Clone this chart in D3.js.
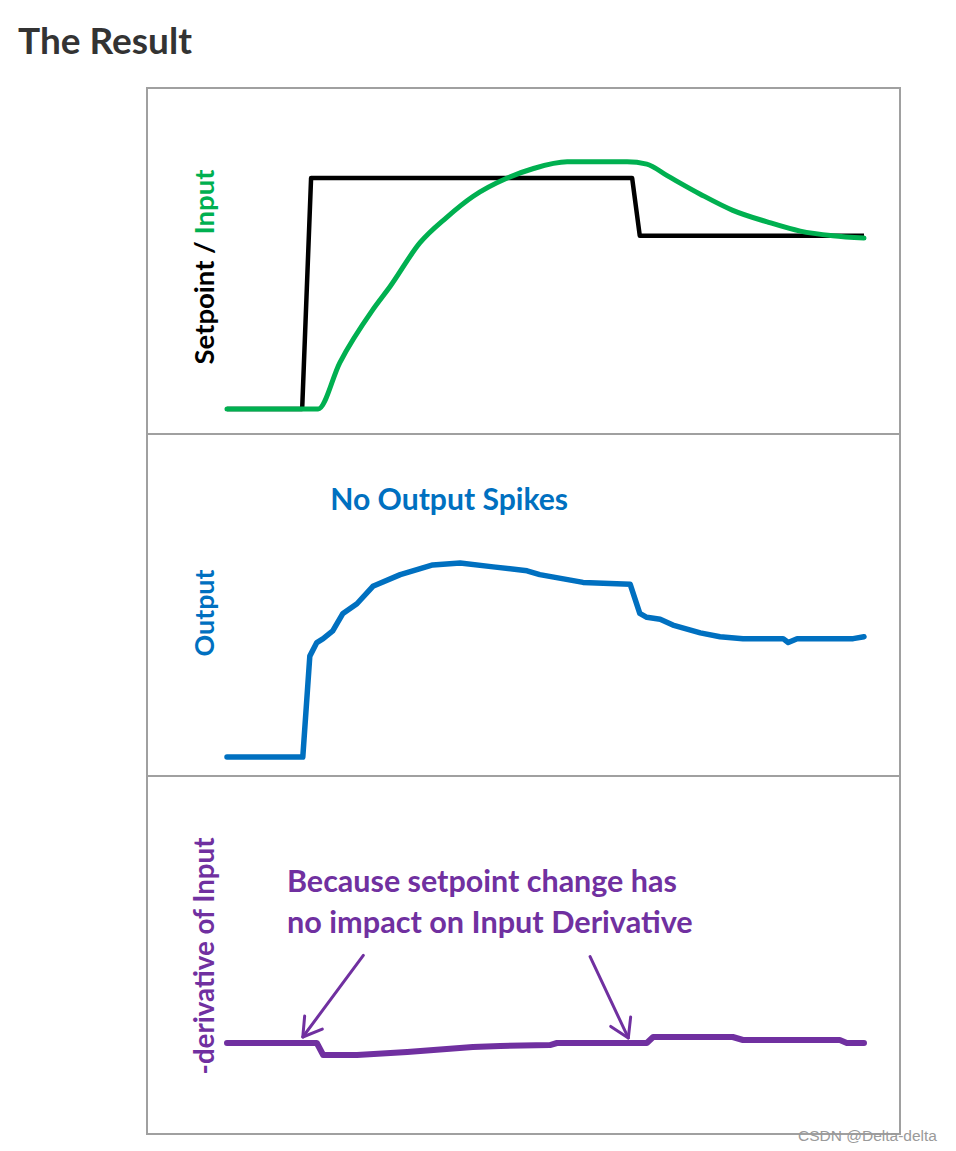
<!DOCTYPE html>
<html><head><meta charset="utf-8">
<script src="https://cdn.jsdelivr.net/npm/d3@7"></script>
<style>
html,body{margin:0;padding:0;background:#fff;}
svg{display:block;}
</style></head>
<body>
<script>
// ---- data (time 0..100, arbitrary value units) ----
const setpointT = [0, 11.8, 13.2, 63.6, 64.8, 100];
const setpointV = [0, 0, 1, 1, 0.75, 0.75];

const inputT = [0, 14.3, 17.7, 22.9, 25.6, 30.3, 34.5, 38.6, 44.0, 48.0, 53.4, 62.8, 65.9, 69.1, 74.3, 79.4, 84.8, 90.0, 95.1, 100];
const inputV = [0, 0, 0.20, 0.43, 0.53, 0.72, 0.83, 0.92, 1.00, 1.04, 1.07, 1.07, 1.06, 1.01, 0.93, 0.86, 0.81, 0.77, 0.75, 0.74];

const outputT = [0, 11.9, 13.0, 14.1, 15.1, 16.6, 18.2, 20.4, 22.9, 27.2, 32.3, 36.6, 41.8, 47.1, 49.1, 55.9, 63.3, 64.8, 65.9, 68.0, 70.0, 74.3, 77.4, 81.0, 87.3, 88.1, 89.5, 98.3, 100];
const outputV = [0, 0, 0.52, 0.59, 0.61, 0.65, 0.74, 0.79, 0.88, 0.94, 0.99, 1.00, 0.98, 0.96, 0.94, 0.90, 0.89, 0.74, 0.72, 0.71, 0.68, 0.64, 0.62, 0.61, 0.61, 0.59, 0.61, 0.61, 0.62];

const derivT = [0, 14.1, 15.1, 20.4, 28.3, 38.6, 42.9, 50.7, 51.8, 65.9, 66.9, 79.4, 81.0, 96.2, 97.3, 100];
const derivV = [0, 0, -1, -1, -0.75, -0.33, -0.25, -0.17, 0, 0, 0.5, 0.5, 0.25, 0.25, 0, 0];

// annotation arrows (tail -> tip, in panel-3 data units)
const arrowTailT = [21.4, 57.0];
const arrowTailV = [7.3, 7.2];
const arrowTipT  = [11.9, 63.0];
const arrowTipV  = [0.5, 0.42];

const panelLabels = ["Setpoint / Input", "Output", "-derivative of Input"];
const noteOutput = "No Output Spikes";
const noteDeriv = ["Because setpoint change has", "no impact on Input Derivative"];

// ---- layout ----
const W = 956, H = 1151;
const svg = d3.select("body").append("svg").attr("width", W).attr("height", H);
const FONT = "Lato, 'Open Sans', sans-serif";

const x = d3.scaleLinear().domain([0, 100]).range([227, 864]);
const y1 = d3.scaleLinear().domain([0, 1]).range([409, 178]);
const y2 = d3.scaleLinear().domain([0, 1]).range([757, 563]);
const y3 = d3.scaleLinear().domain([-1, 1]).range([1055, 1031]);

function fitText(sel, target) {
  const w = sel.node().getComputedTextLength();
  const fs = parseFloat(sel.attr("font-size"));
  sel.attr("font-size", fs * target / w);
}

// title
const title = svg.append("text").attr("x", 18).attr("y", 54)
  .attr("font-family", FONT).attr("font-weight", 700).attr("font-size", 32)
  .attr("fill", "#333").text("The Result");
fitText(title, 174);

// frame
const frame = svg.append("g").attr("fill", "none").attr("stroke", "#a0a0a0").attr("stroke-width", 2);
frame.append("rect").attr("x", 147).attr("y", 88).attr("width", 753).attr("height", 1046);
frame.append("line").attr("x1", 147).attr("x2", 900).attr("y1", 434).attr("y2", 434);
frame.append("line").attr("x1", 147).attr("x2", 900).attr("y1", 776).attr("y2", 776);

function pts(T, V) { return T.map((t, i) => [t, V[i]]); }

// panel 1
svg.append("path").datum(pts(setpointT, setpointV))
  .attr("d", d3.line().x(d => x(d[0])).y(d => y1(d[1])))
  .attr("fill", "none").attr("stroke", "#000").attr("stroke-width", 4.5).attr("stroke-linejoin", "round");
svg.append("path").datum(pts(inputT, inputV))
  .attr("d", d3.line().x(d => x(d[0])).y(d => y1(d[1])).curve(d3.curveMonotoneX))
  .attr("fill", "none").attr("stroke", "#00B050").attr("stroke-width", 5).attr("stroke-linecap", "round").attr("stroke-linejoin", "round");

// panel 2
svg.append("path").datum(pts(outputT, outputV))
  .attr("d", d3.line().x(d => x(d[0])).y(d => y2(d[1])))
  .attr("fill", "none").attr("stroke", "#0070C0").attr("stroke-width", 5.5).attr("stroke-linecap", "round").attr("stroke-linejoin", "round");

// panel 3
svg.append("path").datum(pts(derivT, derivV))
  .attr("d", d3.line().x(d => x(d[0])).y(d => y3(d[1])))
  .attr("fill", "none").attr("stroke", "#7030A0").attr("stroke-width", 6).attr("stroke-linecap", "round").attr("stroke-linejoin", "round");

// arrows
arrowTailT.forEach((t, i) => {
  const x0 = x(t), yy0 = y3(arrowTailV[i]);
  const x1 = x(arrowTipT[i]), yy1 = y3(arrowTipV[i]);
  const ang = Math.atan2(yy1 - yy0, x1 - x0);
  const L = 21, a = 0.55;
  const g = svg.append("g").attr("stroke", "#7030A0").attr("stroke-width", 3).attr("fill", "none").attr("stroke-linecap", "round");
  g.append("line").attr("x1", x0).attr("y1", yy0).attr("x2", x1).attr("y2", yy1);
  g.append("path").attr("d",
    `M${x1 - L * Math.cos(ang - a)},${yy1 - L * Math.sin(ang - a)} L${x1},${yy1} L${x1 - L * Math.cos(ang + a)},${yy1 - L * Math.sin(ang + a)}`)
    .attr("stroke-linejoin", "round");
});

// y labels (rotated)
function vlabel(cx, cy, len, parts) {
  const t = svg.append("text").attr("transform", `translate(${cx},${cy}) rotate(-90)`)
    .attr("text-anchor", "middle").attr("font-family", FONT).attr("font-weight", 700).attr("font-size", 22);
  parts.forEach(p => t.append("tspan").attr("fill", p[1]).text(p[0]));
  fitText(t, len);
  return t;
}
vlabel(214, 267, 195, [["Setpoint / ", "#000"], ["Input", "#00B050"]]);
vlabel(214, 613, 87, [[panelLabels[1], "#0070C0"]]);
vlabel(214, 956, 237, [[panelLabels[2], "#7030A0"]]);

// notes
const n1 = svg.append("text").attr("x", x(16.2)).attr("y", y2(1.273))
  .attr("font-family", FONT).attr("font-weight", 700).attr("font-size", 26)
  .attr("fill", "#0070C0").text(noteOutput);
fitText(n1, 238);

const nb = [892, 933];
noteDeriv.forEach((s, i) => {
  const t = svg.append("text").attr("x", 287).attr("y", nb[i])
    .attr("font-family", FONT).attr("font-weight", 700).attr("font-size", 26)
    .attr("fill", "#7030A0").text(s);
  fitText(t, i === 0 ? 390 : 406);
});

// watermark
svg.append("text").attr("x", 798).attr("y", 1141)
  .attr("font-family", "'Liberation Sans', Arial, sans-serif").attr("font-size", 15.5)
  .attr("fill", "#9a9a9a").text("CSDN @Delta-delta");
</script>
</body></html>
